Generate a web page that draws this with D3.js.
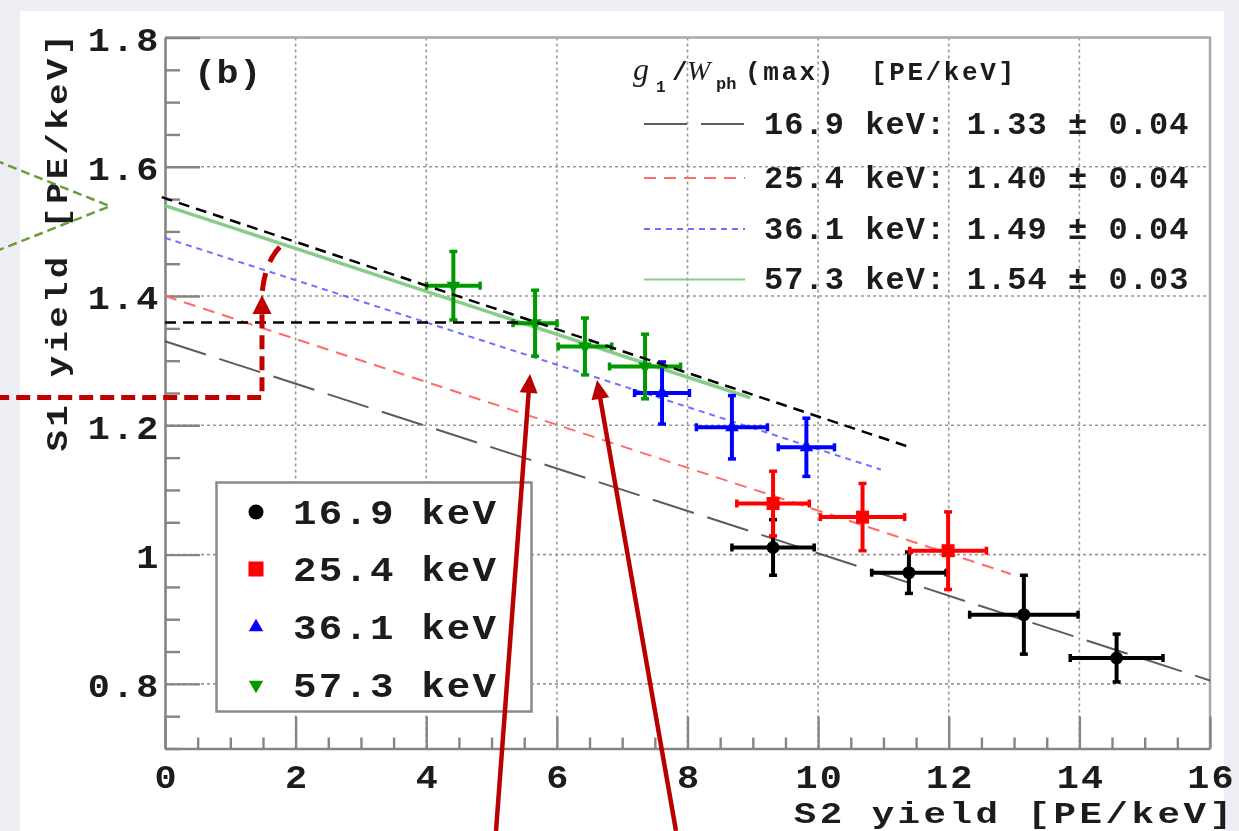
<!DOCTYPE html>
<html><head><meta charset="utf-8">
<script src="https://cdn.jsdelivr.net/npm/d3@7"></script>
<style>body{margin:0;background:#eceef3;} svg{display:block}</style>
</head><body>
<svg id="c" width="1239" height="831"></svg>
<script>
// ---------- data ----------
const seriesNames = ["16.9 keV", "25.4 keV", "36.1 keV", "57.3 keV"];
const seriesColors = ["#000000", "#ff0000", "#0000ff", "#009a00"];
const xTicks = [0, 2, 4, 6, 8, 10, 12, 14, 16];
const xTickLabels = ["0", "2", "4", "6", "8", "10", "12", "14", "16"];
const yTicks = [0.8, 1.0, 1.2, 1.4, 1.6, 1.8];
const yTickLabels = ["0.8", "1", "1.2", "1.4", "1.6", "1.8"];

const x169 = [9.31, 11.39, 13.15, 14.57];
const y169 = [1.011, 0.972, 0.907, 0.840];
const ex169 = [0.63, 0.57, 0.83, 0.71];
const ey169 = [0.043, 0.032, 0.061, 0.037];

const x254 = [9.31, 10.68, 11.99];
const y254 = [1.079, 1.058, 1.006];
const ex254 = [0.555, 0.645, 0.587];
const ey254 = [0.050, 0.052, 0.060];

const x361 = [7.61, 8.68, 9.82];
const y361 = [1.250, 1.197, 1.166];
const ex361 = [0.42, 0.544, 0.43];
const ey361 = [0.048, 0.049, 0.045];

const x573 = [4.415, 5.666, 6.43, 7.35];
const y573 = [1.416, 1.358, 1.322, 1.291];
const ex573 = [0.41, 0.337, 0.41, 0.544];
const ey573 = [0.053, 0.051, 0.044, 0.050];

const fitIntercepts = [1.33, 1.40, 1.49, 1.54];
const fitSlopes = [-0.0328, -0.0332, -0.0327, -0.0332];
const fitXmax = [16, 12.95, 10.96, 8.96];
const fitLabels = ["16.9 keV: 1.33 \u00b1 0.04", "25.4 keV: 1.40 \u00b1 0.04",
                   "36.1 keV: 1.49 \u00b1 0.04", "57.3 keV: 1.54 \u00b1 0.03"];

// annotation overlays (data units)
const tangentLine = [[-0.05, 1.553], [11.35, 1.168]];
const levelLine = [[0, 1.359], [5.5, 1.359]];
const redElbow = [[-2.6, 1.243], [1.485, 1.243], [1.485, 1.374]];
const redElbowTip = [1.485, 1.4016];
const redArc = [[1.49, 1.408], [1.546, 1.459], [1.822, 1.482]];
const redArrows = [[[5.068, 0.5724], [5.589, 1.2794]], [[7.824, 0.5724], [6.615, 1.2701]]];
const greenChevron = [[-2.6, 1.610], [-0.842, 1.539], [-2.6, 1.469]];

// ---------- setup ----------
const W = 1239, H = 831;
const FONT = "'Liberation Mono','DejaVu Sans Mono',monospace";
const svgRoot = d3.select("#c");
svgRoot.append("defs").append("filter").attr("id", "soft")
  .attr("x", -0.02).attr("y", -0.02).attr("width", 1.04).attr("height", 1.04)
  .append("feGaussianBlur").attr("stdDeviation", 0.45);
const svg = svgRoot.append("g").attr("filter", "url(#soft)");
const x = d3.scaleLinear().domain([0, 16]).range([165, 1210]);
const y = d3.scaleLinear().domain([0.7, 1.8]).range([748.5, 37.5]);

svg.append("rect").attr("width", W).attr("height", H).attr("fill", "#eceef3");
svg.append("rect").attr("x", 20).attr("y", 11).attr("width", 1204).attr("height", 820).attr("fill", "#ffffff");

// grid
const grid = svg.append("g").attr("stroke", "#999").attr("stroke-width", 1.6).attr("stroke-dasharray", "3,3");
grid.selectAll("line.gx").data(xTicks.filter(d => d > 0 && d < 16)).join("line")
  .attr("x1", d => x(d)).attr("x2", d => x(d)).attr("y1", y(1.8)).attr("y2", y(0.7));
grid.selectAll("line.gy").data(yTicks.filter(d => d < 1.79)).join("line")
  .attr("y1", d => y(d)).attr("y2", d => y(d)).attr("x1", x(0)).attr("x2", x(16));

// frame top/right
svg.append("path").attr("d", `M${x(0)},${y(1.8)}H${x(16)}V${y(0.7)}`)
  .attr("fill", "none").attr("stroke", "#a8a8a8").attr("stroke-width", 2.5);

// axes
const xMinor = d3.range(0, 16.25, 0.5).filter(v => v % 2 !== 0);
const yMinor = d3.range(14, 36).filter(i => i % 4 !== 0).map(i => i * 0.05);

function styleAxis(sel) {
  sel.select(".domain").attr("stroke", "#858585").attr("stroke-width", 2.6);
  sel.selectAll(".tick line").attr("stroke", "#858585").attr("stroke-width", 2.4);
  sel.selectAll(".tick text").attr("fill", "#1c1c1c").attr("font-family", FONT)
    .attr("font-weight", "bold").attr("font-size", 33.5).attr("letter-spacing", 2)
    .attr("transform", "scale(1.1,1)");
}
const gxMinor = svg.append("g").attr("transform", `translate(0,${y(0.7)})`)
  .call(d3.axisBottom(x).tickValues(xMinor).tickSize(-11).tickSizeOuter(0).tickFormat(""));
gxMinor.select(".domain").remove();
gxMinor.selectAll(".tick line").attr("stroke", "#858585").attr("stroke-width", 2.4);
const gyMinor = svg.append("g").attr("transform", `translate(${x(0)},0)`)
  .call(d3.axisLeft(y).tickValues(yMinor).tickSize(-15).tickSizeOuter(0).tickFormat(""));
gyMinor.select(".domain").remove();
gyMinor.selectAll(".tick line").attr("stroke", "#858585").attr("stroke-width", 2.4);

const gx = svg.append("g").attr("transform", `translate(0,${y(0.7)})`)
  .call(d3.axisBottom(x).tickValues(xTicks).tickSize(-32).tickSizeOuter(0).tickPadding(16)
    .tickFormat((d, i) => xTickLabels[i]));
styleAxis(gx);
gx.selectAll(".tick text").attr("dx", 1);
const gy = svg.append("g").attr("transform", `translate(${x(0)},0)`)
  .call(d3.axisLeft(y).tickValues(yTicks).tickSize(-35).tickSizeOuter(0).tickPadding(4)
    .tickFormat((d, i) => yTickLabels[i]));
styleAxis(gy);
gy.selectAll(".tick text").attr("dy", "0.38em");

// axis titles
svg.append("text").attr("transform", "translate(1232,823) scale(1.25,1)")
  .attr("text-anchor", "end").attr("x", 2.8)
  .attr("font-family", FONT).attr("font-weight", "bold").attr("font-size", 30)
  .attr("letter-spacing", 2.8).attr("fill", "#1c1c1c").text("S2 yield [PE/keV]");
svg.append("text").attr("transform", "translate(67,34) rotate(-90) scale(1.19,1)")
  .attr("text-anchor", "end").attr("x", 2.8)
  .attr("font-family", FONT).attr("font-weight", "bold").attr("font-size", 30)
  .attr("letter-spacing", 2.8).attr("fill", "#1c1c1c").text("S1 yield [PE/keV]");

// (b) label
svg.append("text").attr("transform", "translate(194,83) scale(1.08,1)").attr("font-family", FONT).attr("font-weight", "bold")
  .attr("font-size", 34).attr("letter-spacing", 0.5).attr("fill", "#1c1c1c").text("(b)");

// fit lines
const fitStyles = [
  {stroke: "#4a4a4a", w: 2, dash: "43,14", op: 0.9},
  {stroke: "#ff6a6a", w: 2, dash: "12,8", op: 1},
  {stroke: "#7070ff", w: 2, dash: "6,5", op: 1},
  {stroke: "#88cc88", w: 3.5, dash: null, op: 1}
];
fitIntercepts.forEach((b, i) => {
  const x2 = fitXmax[i];
  svg.append("line").attr("x1", x(0)).attr("y1", y(b)).attr("x2", x(x2)).attr("y2", y(b + fitSlopes[i] * x2))
    .attr("stroke", fitStyles[i].stroke).attr("stroke-width", fitStyles[i].w)
    .attr("stroke-dasharray", fitStyles[i].dash).attr("opacity", fitStyles[i].op);
});

// data points
const series = [
  {xs: x169, ys: y169, exs: ex169, eys: ey169},
  {xs: x254, ys: y254, exs: ex254, eys: ey254},
  {xs: x361, ys: y361, exs: ex361, eys: ey361},
  {xs: x573, ys: y573, exs: ex573, eys: ey573}
];
const symbolFns = [
  g => g.append("circle").attr("r", 6.5),
  g => g.append("rect").attr("x", -6.5).attr("y", -6.5).attr("width", 13).attr("height", 13),
  g => g.append("path").attr("d", d3.symbol(d3.symbolTriangle, 80)()),
  g => g.append("path").attr("d", d3.symbol(d3.symbolTriangle, 80)()).attr("transform", "rotate(180)")
];
series.forEach((s, si) => {
  const col = seriesColors[si];
  const gs = svg.append("g").attr("stroke", col).attr("fill", col);
  s.xs.forEach((xv, k) => {
    const cx = x(xv), cy = y(s.ys[k]);
    const xl = x(xv - s.exs[k]), xr = x(xv + s.exs[k]);
    const yt = y(s.ys[k] + s.eys[k]), yb = y(s.ys[k] - s.eys[k]);
    gs.append("line").attr("x1", xl).attr("x2", xr).attr("y1", cy).attr("y2", cy).attr("stroke-width", 4);
    gs.append("line").attr("x1", cx).attr("x2", cx).attr("y1", yt).attr("y2", yb).attr("stroke-width", 4);
    [[xl, cy, 0], [xr, cy, 0], [cx, yt, 1], [cx, yb, 1]].forEach(([px, py, v]) => {
      gs.append("line").attr("stroke-width", 3.5)
        .attr("x1", v ? px - 4 : px).attr("x2", v ? px + 4 : px)
        .attr("y1", v ? py : py - 4).attr("y2", v ? py : py + 4);
    });
    const m = gs.append("g").attr("transform", `translate(${cx},${cy})`).attr("stroke", "none");
    symbolFns[si](m);
  });
});

// black annotation dashed lines
const line = d3.line().x(d => x(d[0])).y(d => y(d[1]));
svg.append("path").attr("d", line(tangentLine)).attr("fill", "none").attr("stroke", "#000")
  .attr("stroke-width", 2.5).attr("stroke-dasharray", "11,7");
svg.append("path").attr("d", line(levelLine)).attr("fill", "none").attr("stroke", "#000")
  .attr("stroke-width", 2.5).attr("stroke-dasharray", "11,7");

// legend box (lower left)
const lg = svg.append("g");
lg.append("rect").attr("x", 216.5).attr("y", 482.5).attr("width", 315).attr("height", 229)
  .attr("fill", "#fff").attr("stroke", "#8a8a8a").attr("stroke-width", 2.5);
const legRows = [512, 569, 627, 685];
seriesNames.forEach((nm, i) => {
  const m = lg.append("g").attr("transform", `translate(256,${legRows[i]})`).attr("fill", seriesColors[i]);
  if (i === 0) m.append("circle").attr("r", 7.5);
  if (i === 1) m.append("rect").attr("x", -7.5).attr("y", -7.5).attr("width", 15).attr("height", 15);
  if (i === 2) m.append("path").attr("d", d3.symbol(d3.symbolTriangle, 90)());
  if (i === 3) m.append("path").attr("d", d3.symbol(d3.symbolTriangle, 90)()).attr("transform", "rotate(180)");
  lg.append("text").attr("transform", `translate(293,${legRows[i] + 12}) scale(1.12,1)`).attr("font-family", FONT)
    .attr("font-weight", "bold").attr("font-size", 35).attr("letter-spacing", 1.9)
    .attr("fill", "#1c1c1c").text(nm);
});

// top-right fit legend
const tl = svg.append("g").attr("fill", "#1c1c1c");
tl.append("text").attr("x", 633).attr("y", 80).attr("font-family", "'Liberation Serif',serif")
  .attr("font-style", "italic").attr("font-size", 32).text("g");
tl.append("text").attr("x", 656).attr("y", 92).attr("font-family", FONT).attr("font-weight", "bold")
  .attr("font-size", 16).text("1");
tl.append("text").attr("x", 672).attr("y", 80).attr("font-family", FONT).attr("font-weight", "bold")
  .attr("font-size", 26).text("/");
tl.append("text").attr("x", 687).attr("y", 80).attr("font-family", "'Liberation Serif',serif")
  .attr("font-style", "italic").attr("font-size", 28).text("W");
tl.append("text").attr("x", 716).attr("y", 89).attr("font-family", FONT).attr("font-weight", "bold")
  .attr("font-size", 17).text("ph");
tl.append("text").attr("x", 745).attr("y", 80).attr("font-family", FONT).attr("font-weight", "bold")
  .attr("font-size", 26).attr("letter-spacing", 2.6).text("(max)");
tl.append("text").attr("x", 871).attr("y", 80).attr("font-family", FONT).attr("font-weight", "bold")
  .attr("font-size", 26).attr("letter-spacing", 2.6).text("[PE/keV]");
const topRows = [123, 177, 228, 278.5];
fitLabels.forEach((t, i) => {
  tl.append("line").attr("x1", 644).attr("x2", 745).attr("y1", topRows[i] + 1).attr("y2", topRows[i] + 1)
    .attr("stroke", fitStyles[i].stroke).attr("stroke-width", i === 3 ? 2.2 : 2)
    .attr("stroke-dasharray", fitStyles[i].dash).attr("opacity", fitStyles[i].op);
  tl.append("text").attr("transform", `translate(764,${topRows[i] + 10.5}) scale(1.05,1)`).attr("font-family", FONT)
    .attr("font-weight", "bold").attr("font-size", 30.5).attr("letter-spacing", 1).text(t);
});

// green chevron annotation
svg.append("path").attr("d", line(greenChevron)).attr("fill", "none").attr("stroke", "#6a9e3a")
  .attr("stroke-width", 2.5).attr("stroke-dasharray", "9,5");

// red annotations
function headPath(p0, p1, len, hw) {
  const dx = p1[0] - p0[0], dy = p1[1] - p0[1], L = Math.hypot(dx, dy), ux = dx / L, uy = dy / L;
  const bx = p1[0] - ux * len, by = p1[1] - uy * len;
  return `M${p1[0]},${p1[1]}L${bx - uy * hw},${by + ux * hw}L${bx + uy * hw},${by - ux * hw}Z`;
}
const RED = "#c00000";
svg.append("path").attr("d", line(redElbow)).attr("fill", "none").attr("stroke", RED)
  .attr("stroke-width", 5).attr("stroke-dasharray", "14,7");
{
  const p0 = [x(redElbow[2][0]), y(redElbow[2][1])], p1 = [x(redElbowTip[0]), y(redElbowTip[1])];
  svg.append("path").attr("d", headPath([p0[0], p0[1] + 10], p1, 19, 9.5)).attr("fill", RED);
}
svg.append("path")
  .attr("d", `M${x(redArc[0][0])},${y(redArc[0][1])}Q${x(redArc[1][0])},${y(redArc[1][1])} ${x(redArc[2][0])},${y(redArc[2][1])}`)
  .attr("fill", "none").attr("stroke", RED).attr("stroke-width", 5).attr("stroke-dasharray", "18,12");

redArrows.forEach(([t, h]) => {
  const p0 = [x(t[0]), y(t[1])], p1 = [x(h[0]), y(h[1])];
  const dx = p1[0] - p0[0], dy = p1[1] - p0[1], L = Math.hypot(dx, dy);
  const bx = p1[0] - dx / L * 16, by = p1[1] - dy / L * 16;
  svg.append("line").attr("x1", p0[0]).attr("y1", p0[1]).attr("x2", bx).attr("y2", by)
    .attr("stroke", "#b80000").attr("stroke-width", 4.5);
  svg.append("path").attr("d", headPath(p0, p1, 19, 9)).attr("fill", "#b80000");
});
</script>
</body></html>
